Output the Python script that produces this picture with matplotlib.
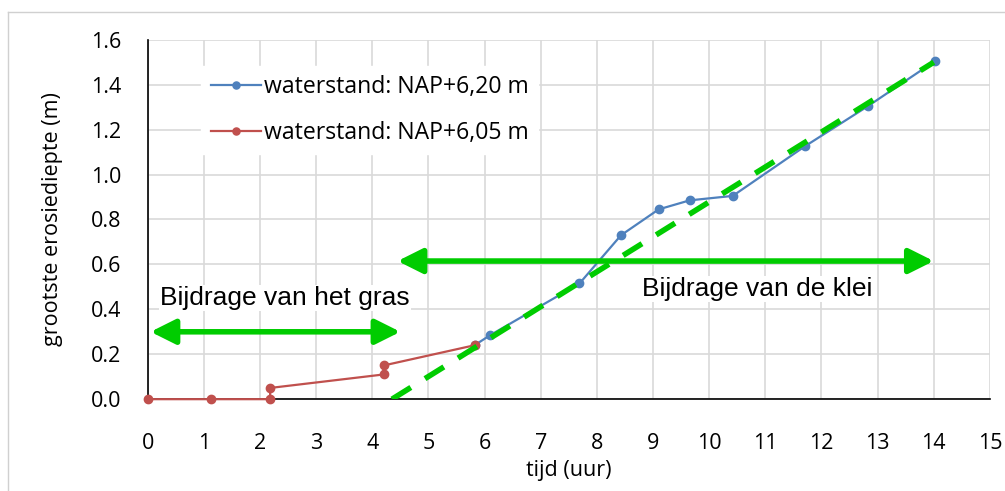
import matplotlib.pyplot as plt
from matplotlib.lines import Line2D

# %% data
t_hoog = [5.82, 6.1, 7.69, 8.43, 9.1, 9.65, 10.42, 11.7, 12.83, 14.02]
d_hoog = [0.24, 0.285, 0.515, 0.73, 0.845, 0.885, 0.905, 1.125, 1.305, 1.505]

t_laag = [0, 1.13, 2.18, 2.18, 4.2, 4.2, 5.82]
d_laag = [0, 0, 0, 0.05, 0.11, 0.15, 0.24]

trend_t = [4.35, 14.0]
trend_d = [0.0, 1.5]

x_ticks = list(range(0, 16))
y_ticks = [0.0, 0.2, 0.4, 0.6, 0.8, 1.0, 1.2, 1.4, 1.6]

blauw = '#4F81BD'
rood = '#C0504D'
groen = '#00CC00'

# %% plot
plt.rcParams['font.family'] = ['Open Sans', 'DejaVu Sans']
fig = plt.figure(figsize=(10.05, 4.91), dpi=100)
ax = fig.add_axes([0.147, 0.187, 0.838, 0.732])

ax.plot(t_hoog, d_hoog, '-o', color=blauw, lw=1.6, ms=6,
        label='waterstand: NAP+6,20 m', zorder=3, clip_on=False)
ax.plot(t_laag, d_laag, '-o', color=rood, lw=1.6, ms=6,
        label='waterstand: NAP+6,05 m', zorder=4, clip_on=False)
ax.plot(trend_t, trend_d, '--', color=groen, lw=4, dashes=(4, 3), zorder=5)

# arrows with labels
arrow = dict(arrowstyle='<|-|>,head_length=1.5,head_width=0.75', color=groen,
             lw=4, shrinkA=0, shrinkB=0)
ax.annotate('', xy=(0.05, 0.3), xytext=(4.5, 0.3), arrowprops=arrow, zorder=6)
ax.annotate('', xy=(4.45, 0.615), xytext=(14.0, 0.615), arrowprops=arrow, zorder=6)
ax.text(0.22, 0.45, 'Bijdrage van het gras', fontsize=19,
        family='Liberation Sans', va='center', ha='left', zorder=2,
        bbox=dict(fc='white', ec='none', pad=1))
ax.text(10.85, 0.49, 'Bijdrage van de klei', fontsize=19,
        family='Liberation Sans', va='center', ha='center', zorder=2,
        bbox=dict(fc='white', ec='none', pad=1))

ax.set_xlim(0, 15)
ax.set_ylim(0, 1.6)
ax.set_xticks(x_ticks)
ax.set_yticks(y_ticks)
ax.set_yticklabels(['%.1f' % v for v in y_ticks])
ax.grid(True, color='#D9D9D9', lw=1.2)
ax.set_axisbelow(True)
for s in ['top', 'right']:
    ax.spines[s].set_visible(False)
for s in ['left', 'bottom']:
    ax.spines[s].set_color('black')
    ax.spines[s].set_linewidth(1.2)
ax.tick_params(length=0, labelsize=15.5)
ax.tick_params(axis='x', pad=24)
ax.tick_params(axis='y', pad=19)
ax.set_xlabel('tijd (uur)', fontsize=15.5, labelpad=5)
ax.set_ylabel('grootste erosiediepte (m)', fontsize=15.5, labelpad=20)

leg = ax.legend(loc='upper left', bbox_to_anchor=(0.05, 0.96), fontsize=16.6,
                frameon=True, fancybox=False, edgecolor='white',
                framealpha=1, handlelength=2.2, handletextpad=0.1,
                labelspacing=0.95, markerscale=0.85)

# outer frame (left and top edges only visible)
fig.add_artist(Line2D([0.008, 0.008], [0, 0.976], transform=fig.transFigure,
                      color='#D0D0D0', lw=1))
fig.add_artist(Line2D([0.008, 1.0], [0.976, 0.976], transform=fig.transFigure,
                      color='#D0D0D0', lw=1))

fig.savefig('out.png', dpi=100)
